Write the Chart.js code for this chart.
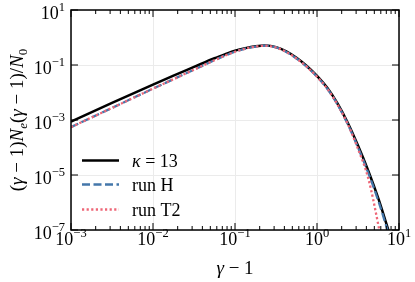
<!DOCTYPE html>
<html>
<head>
<meta charset="utf-8">
<script src="https://cdn.jsdelivr.net/npm/chart.js@4.4.1/dist/chart.umd.min.js"></script>
<style>
  html, body { margin: 0; padding: 0; background: #fff; }
</style>
</head>
<body>
<canvas id="myChart" width="415" height="282"></canvas>
<script>
// gamma - 1 (x axis)
var gamma1 = [0.001, 0.003162, 0.01, 0.01778, 0.03162, 0.05623, 0.07499, 0.1, 0.1334, 0.1778, 0.2371,
              0.3162, 0.4217, 0.5623, 0.7499, 1, 1.334, 1.778, 2.371, 3.162, 4.217, 5.623, 7.499];
// kappa = 13
var kappa13 = [8.71e-4, 4.17e-3, 1.95e-2, 4.12e-2, 8.51e-2, 0.1758, 0.2438, 0.3319, 0.4111, 0.4775, 0.5070,
               0.4467, 0.3162, 0.1841, 9.23e-2, 4.03e-2, 1.479e-2, 3.98e-3, 7.94e-4, 1.175e-4, 1.429e-5, 1.349e-6, 8.91e-8];
// run H
var runH = [5.50e-4, 2.75e-3, 1.38e-2, 3.05e-2, 6.76e-2, 0.1496, 0.2173, 0.3027, 0.3926, 0.4667, 0.5012,
            0.4340, 0.2985, 0.1728, 8.66e-2, 3.758e-2, 1.372e-2, 3.65e-3, 7.08e-4, 1.0e-4, 1.19e-5, 1.10e-6, 7.08e-8];
// run T2
var runT2 = [5.50e-4, 2.75e-3, 1.38e-2, 3.05e-2, 6.76e-2, 0.1496, 0.2173, 0.3027, 0.3926, 0.4667, 0.5012,
             0.4340, 0.2985, 0.1728, 8.66e-2, 3.758e-2, 1.372e-2, 3.65e-3, 7.08e-4, 8.91e-5, 7.59e-6, 1.41e-7, 1.26e-9];

// ticks
var xTicks = [1e-3, 1e-2, 1e-1, 1, 10];
var xTickExp = ['−3', '−2', '−1', '0', '1'];
var yTicks = [1e-7, 1e-5, 1e-3, 1e-1, 10];
var yTickExp = ['−7', '−5', '−3', '−1', '1'];
var minorMult = [2, 3, 4, 5, 6, 7, 8, 9];

var FONT = "'Liberation Serif', 'DejaVu Serif', serif";

function pts(ys) {
    return gamma1.map(function(x, i) { return { x: x, y: ys[i] }; });
}

// draw a list of [text, font, dy] pieces starting at x
function drawPieces(ctx, pieces, x, y) {
    pieces.forEach(function(p) {
        ctx.font = p[1];
        ctx.fillText(p[0], x, y + (p[2] || 0));
        x += ctx.measureText(p[0]).width;
    });
    return x;
}
function piecesWidth(ctx, pieces) {
    var w = 0;
    pieces.forEach(function(p) { ctx.font = p[1]; w += ctx.measureText(p[0]).width; });
    return w;
}

var bigF = "18px " + FONT;
var supF = "12.5px " + FONT;

var axesPlugin = {
    id: 'axesPlugin',
    afterDraw: function(chart) {
        var ctx = chart.ctx;
        var a = chart.chartArea;
        var sx = chart.scales.x, sy = chart.scales.y;
        ctx.save();
        ctx.fillStyle = '#000';
        ctx.strokeStyle = '#000';
        ctx.textBaseline = 'alphabetic';
        ctx.textAlign = 'left';

        // tick marks (inward, all sides)
        ctx.lineWidth = 1;
        ctx.beginPath();
        xTicks.forEach(function(v, i) {
            var px = sx.getPixelForValue(v);
            ctx.moveTo(px, a.bottom); ctx.lineTo(px, a.bottom - 7);
            ctx.moveTo(px, a.top); ctx.lineTo(px, a.top + 7);
            if (i < xTicks.length - 1) {
                minorMult.forEach(function(m) {
                    var q = sx.getPixelForValue(v * m);
                    ctx.moveTo(q, a.bottom); ctx.lineTo(q, a.bottom - 4);
                    ctx.moveTo(q, a.top); ctx.lineTo(q, a.top + 4);
                });
            }
        });
        yTicks.forEach(function(v) {
            var py = sy.getPixelForValue(v);
            ctx.moveTo(a.left, py); ctx.lineTo(a.left + 7, py);
            ctx.moveTo(a.right, py); ctx.lineTo(a.right - 7, py);
        });
        ctx.stroke();

        // frame
        ctx.lineWidth = 1.5;
        ctx.strokeRect(a.left, a.top, a.right - a.left, a.bottom - a.top);

        // x tick labels
        xTicks.forEach(function(v, i) {
            var px = sx.getPixelForValue(v);
            var p = [['10', bigF, 0], [xTickExp[i], supF, -8]];
            drawPieces(ctx, p, px - piecesWidth(ctx, p) / 2, a.bottom + 15);
        });
        // y tick labels
        yTicks.forEach(function(v, i) {
            var py = sy.getPixelForValue(v);
            var p = [['10', bigF, 0], [yTickExp[i], supF, -8]];
            drawPieces(ctx, p, a.left - 6 - piecesWidth(ctx, p), py + 9);
        });

        // x title
        var itF = "italic 19px " + FONT, rmF = "19px " + FONT;
        var xt = [['γ', itF, 0], [' − 1', rmF, 0]];
        drawPieces(ctx, xt, (a.left + a.right) / 2 - piecesWidth(ctx, xt) / 2, 274);

        // y title (rotated)
        var subF = "italic 13px " + FONT, subR = "13px " + FONT;
        var yt = [['(', rmF, 0], ['γ', itF, 0], [' − 1)', rmF, 0], ['N', itF, 0], ['e', subF, 4],
                  ['(', rmF, 0], ['γ', itF, 0], [' − 1)/', rmF, 0], ['N', itF, 0], ['0', subR, 4]];
        ctx.save();
        ctx.translate(23, (a.top + a.bottom) / 2);
        ctx.rotate(-Math.PI / 2);
        drawPieces(ctx, yt, -piecesWidth(ctx, yt) / 2, 0);
        ctx.restore();

        // legend
        var lg = [
            { ds: 0, y: 160.5, text: [['κ', "italic 18px " + FONT, 0], [' = 13', "18px " + FONT, 0]] },
            { ds: 1, y: 184.5, text: [['run H', "18px " + FONT, 0]] },
            { ds: 2, y: 209.5, text: [['run T2', "18px " + FONT, 0]] }
        ];
        lg.forEach(function(it) {
            var d = chart.data.datasets[it.ds];
            ctx.save();
            ctx.strokeStyle = d.borderColor;
            ctx.lineWidth = d.borderWidth;
            ctx.setLineDash(d.borderDash || []);
            ctx.beginPath();
            ctx.moveTo(82, it.y); ctx.lineTo(119, it.y);
            ctx.stroke();
            ctx.restore();
            drawPieces(ctx, it.text, 132, it.y + 6);
        });
        ctx.restore();
    }
};

var ctx = document.getElementById("myChart");
var myChart = new Chart(ctx, {
    type: 'line',
    data: {
        datasets: [{
            label: 'κ = 13',
            data: pts(kappa13),
            borderColor: '#000000',
            borderWidth: 2.5,
            pointRadius: 0,
            cubicInterpolationMode: 'monotone',
            order: 3
        }, {
            label: 'run H',
            data: pts(runH),
            borderColor: '#4477AA',
            borderWidth: 2.3,
            borderDash: [8, 3.5],
            pointRadius: 0,
            cubicInterpolationMode: 'monotone',
            order: 2
        }, {
            label: 'run T2',
            data: pts(runT2),
            borderColor: '#EE6677',
            borderWidth: 2.3,
            borderDash: [2.2, 2.4],
            pointRadius: 0,
            cubicInterpolationMode: 'monotone',
            order: 1
        }]
    },
    options: {
        responsive: false,
        animation: false,
        devicePixelRatio: 1,
        layout: { padding: { top: 10, right: 16, left: 0, bottom: 0 } },
        plugins: { legend: { display: false }, tooltip: { enabled: false } },
        scales: {
            x: {
                type: 'logarithmic',
                min: 1e-3, max: 10,
                afterBuildTicks: function(s) { s.ticks = xTicks.map(function(v) { return { value: v }; }); },
                afterFit: function(s) { s.height = 52; },
                ticks: { display: false },
                grid: { color: '#ebebeb', lineWidth: 1, drawTicks: false },
                border: { display: false }
            },
            y: {
                type: 'logarithmic',
                min: 1e-7, max: 10,
                afterBuildTicks: function(s) { s.ticks = yTicks.map(function(v) { return { value: v }; }); },
                afterFit: function(s) { s.width = 71; },
                ticks: { display: false },
                grid: { color: '#ebebeb', lineWidth: 1, drawTicks: false },
                border: { display: false }
            }
        }
    },
    plugins: [axesPlugin]
});
</script>
</body>
</html>
